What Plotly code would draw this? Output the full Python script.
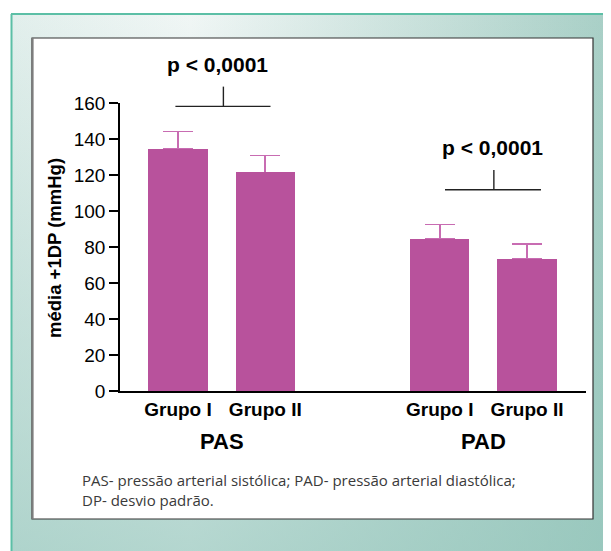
import base64
import plotly.graph_objects as go

# ---------------- data ----------------
groups = ["PAS", "PAD"]
members = ["Grupo I", "Grupo II"]
means = [134.6, 121.4, 84.4, 73.6]      # PAS GI, PAS GII, PAD GI, PAD GII
sds = [9.6, 9.5, 8.1, 8.2]
p_labels = ["p < 0,0001", "p < 0,0001"]
y_ticks = [0, 20, 40, 60, 80, 100, 120, 140, 160]
caption = "PAS- pressão arterial sistólica; PAD- pressão arterial diastólica;<br>DP- desvio padrão."
y_title = "média +1DP (mmHg)"

# ---------------- layout constants ----------------
OFF = 8                       # page body margin
SW, SH = 611, 551             # screen size
W, H = SW - OFF, SH - OFF
L, R, T, B = 120 - OFF, 25, 103 - OFF, 160
XR = [-0.665, 4.676]
YR = [0, 160]
GROUP_STEP = 3
BAR_W = 0.68
BRACKET_Y = [158.1, 111.8]
BRACKET_SPAN = [(-0.03, 1.06), (0.06, 1.16)]
BRACKET_TICK_X = [0.52, 0.62]
TICK_H = 11
P_OFF = 23.3
P_X = [0.455, 0.6]

BAR_COLOR = "#b8529c"
ERR_COLOR = "#c86cb2"
FONT = "Arial, Liberation Sans, sans-serif"

xpos = [gi * GROUP_STEP + mi for gi in range(len(groups)) for mi in range(len(members))]
xlabels = [m for _ in groups for m in members]

pw, ph = W - L - R, H - T - B


def px_x(px):
    return (px - OFF - L) / pw


def px_y(py):
    return (H - B - (py - OFF)) / ph


def dx(x):
    return (x - XR[0]) / (XR[1] - XR[0])


def dy(y):
    return (y - YR[0]) / (YR[1] - YR[0])


fig = go.Figure()
fig.add_trace(go.Bar(
    x=xpos, y=means, width=BAR_W,
    marker=dict(color=BAR_COLOR, line=dict(width=0)),
    error_y=dict(type="data", symmetric=False, array=sds, arrayminus=[0] * len(sds),
                 color=ERR_COLOR, thickness=1.6, width=15),
    showlegend=False, hoverinfo="skip",
))
# same bars again on top, hiding the lower error-bar cap
fig.add_trace(go.Bar(
    x=xpos, y=means, width=BAR_W,
    marker=dict(color=BAR_COLOR, line=dict(width=0)),
    showlegend=False, hoverinfo="skip",
))

# background gradient frame
FW, FH = SW - 11, SH - 14
svg = ('<svg xmlns="http://www.w3.org/2000/svg" width="%d" height="%d" viewBox="0 0 %d %d" '
       'preserveAspectRatio="none"><defs>'
       '<linearGradient id="h" x1="0" y1="0" x2="1" y2="0">'
       '<stop offset="0" stop-color="#e2efec"/><stop offset="0.3" stop-color="#f0f6f5"/>'
       '<stop offset="1" stop-color="#a8cfc6"/></linearGradient>'
       '<linearGradient id="v" x1="0" y1="0" x2="0" y2="1">'
       '<stop offset="0" stop-color="#8fc3b8" stop-opacity="0"/>'
       '<stop offset="1" stop-color="#8fc3b8" stop-opacity="0.62"/></linearGradient>'
       '</defs><rect width="%d" height="%d" fill="url(#h)"/>'
       '<rect width="%d" height="%d" fill="url(#v)"/></svg>') % (FW, FH, FW, FH, FW, FH, FW, FH)
src = "data:image/svg+xml;base64," + base64.b64encode(svg.encode()).decode()
images = [dict(source=src, xref="paper", yref="paper", x=px_x(11), y=px_y(14),
               sizex=FW / pw, sizey=FH / ph, xanchor="left", yanchor="top",
               sizing="stretch", layer="below")]

shapes = [
    dict(type="line", xref="paper", yref="paper", x0=px_x(11), x1=px_x(SW + 2), y0=px_y(14), y1=px_y(14),
         line=dict(color="#5cbfa6", width=2), layer="below"),
    dict(type="line", xref="paper", yref="paper", x0=px_x(11.5), x1=px_x(11.5), y0=px_y(14), y1=px_y(SH + 2),
         line=dict(color="#5cbfa6", width=2), layer="below"),
    dict(type="rect", xref="paper", yref="paper", x0=px_x(32), x1=px_x(593), y0=px_y(519), y1=px_y(38),
         fillcolor="white", line=dict(color="#333333", width=1.2), layer="below"),
    dict(type="line", xref="paper", yref="paper", x0=px_x(32.5), x1=px_x(32.5), y0=px_y(519), y1=px_y(38),
         line=dict(color="#7d7d7d", width=2.2), layer="below"),
]

annotations = []
for gi, g in enumerate(groups):
    base = gi * GROUP_STEP
    by = BRACKET_Y[gi]
    x0, x1 = base + BRACKET_SPAN[gi][0], base + BRACKET_SPAN[gi][1]
    tx = base + BRACKET_TICK_X[gi]
    shapes.append(dict(type="line", xref="paper", yref="paper", x0=dx(x0), x1=dx(x1), y0=dy(by), y1=dy(by),
                       line=dict(color="#222222", width=1.4)))
    shapes.append(dict(type="line", xref="paper", yref="paper", x0=dx(tx), x1=dx(tx), y0=dy(by), y1=dy(by + TICK_H),
                       line=dict(color="#222222", width=1.4)))
    annotations.append(dict(text="<b>%s</b>" % p_labels[gi], xref="paper", yref="paper",
                            x=dx(base + P_X[gi]), y=dy(by + P_OFF), showarrow=False,
                            xanchor="center", yanchor="middle", font=dict(family=FONT, size=21, color="black")))
    annotations.append(dict(text="<b>%s</b>" % g, xref="paper", yref="paper",
                            x=dx(base + 0.5), y=px_y(441.5), showarrow=False,
                            xanchor="center", yanchor="middle", font=dict(family=FONT, size=22, color="black")))

annotations.append(dict(text="<b>%s</b>" % y_title, xref="paper", yref="paper", x=px_x(54), y=px_y(248),
                        textangle=-90, showarrow=False, xanchor="center", yanchor="middle",
                        font=dict(family=FONT, size=18.5, color="black")))
annotations.append(dict(text=caption, xref="paper", yref="paper", x=px_x(80), y=px_y(468),
                        showarrow=False, xanchor="left", yanchor="top", align="left",
                        font=dict(family="Open Sans, Lato, sans-serif", size=15, color="#3a3a3a")))

fig.update_layout(
    width=W, height=H,
    margin=dict(l=L, r=R, t=T, b=B, pad=0),
    paper_bgcolor="white", plot_bgcolor="rgba(0,0,0,0)",
    images=images, shapes=shapes, annotations=annotations,
    barmode="overlay", bargap=0,
    xaxis=dict(range=XR, tickvals=xpos, ticktext=["<b>%s</b>" % t for t in xlabels],
               showline=True, linecolor="black", linewidth=1.5, ticks="", showgrid=False,
               zeroline=False, tickfont=dict(family=FONT, size=19, color="black"), fixedrange=True),
    yaxis=dict(range=YR, tickvals=y_ticks, showline=True, linecolor="black", linewidth=1.5,
               ticks="outside", ticklen=9, tickwidth=1.5, tickcolor="black", showgrid=False,
               zeroline=False, tickfont=dict(family=FONT, size=19, color="black"), fixedrange=True),
)

fig.write_html("out.html")
